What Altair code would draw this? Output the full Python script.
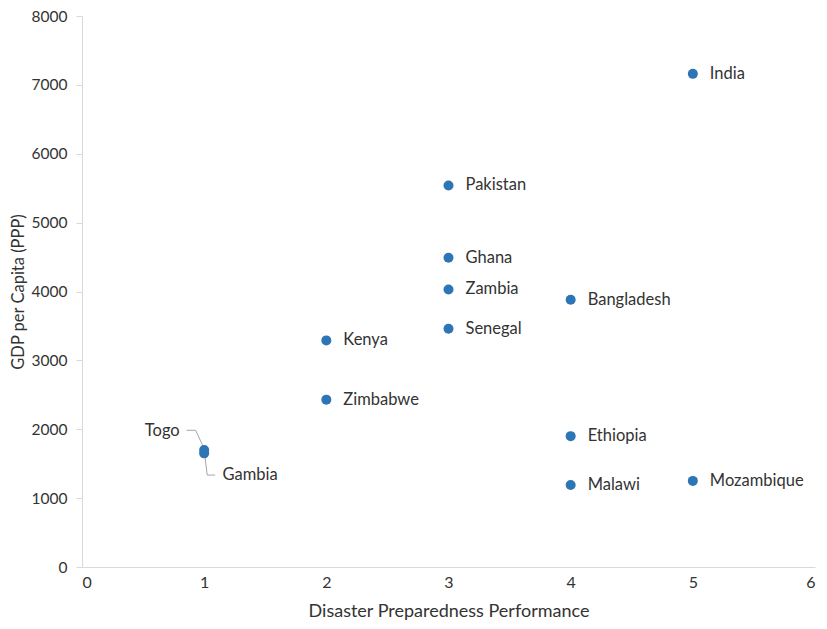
import altair as alt
import pandas as pd

countries = ["India", "Pakistan", "Ghana", "Zambia", "Bangladesh", "Senegal", "Kenya",
             "Zimbabwe", "Ethiopia", "Malawi", "Mozambique", "Togo", "Gambia"]
preparedness = [5, 3, 3, 3, 4, 3, 2, 2, 4, 4, 5, 1, 1]
gdp = [7160, 5540, 4490, 4030, 3880, 3460, 3290, 2430, 1900, 1190, 1250, 1700, 1650]

# labels drawn beside their point (all except the two with leader lines)
side_labels = countries[:11]

# leader-line annotations: label anchor and polyline path in data units
togo_label = {"x": 0.80, "y": 1975}
gambia_label = {"x": 1.15, "y": 1330}
togo_path_x = [0.855, 0.93, 1.0]
togo_path_y = [1985, 1985, 1720]
gambia_path_x = [1.005, 1.025, 1.09]
gambia_path_y = [1620, 1335, 1335]

FONT = "Lato"
TEXT = "#333333"
BLUE = "#2e75b6"

df = pd.DataFrame({"country": countries, "x": preparedness, "y": gdp})
side_df = df[df["country"].isin(side_labels)]

leader_df = pd.DataFrame({
    "grp": ["Togo"] * 3 + ["Gambia"] * 3,
    "order": [0, 1, 2, 0, 1, 2],
    "x": togo_path_x + gambia_path_x,
    "y": togo_path_y + gambia_path_y,
})
ann_df = pd.DataFrame({
    "country": ["Togo", "Gambia"],
    "x": [togo_label["x"], gambia_label["x"]],
    "y": [togo_label["y"], gambia_label["y"]],
    "align": ["right", "left"],
})

xs = alt.Scale(domain=[0, 6], nice=False)
ys = alt.Scale(domain=[0, 8000], nice=False)

x_axis = alt.Axis(title="Disaster Preparedness Performance", values=[0, 1, 2, 3, 4, 5, 6],
                  format="d", ticks=False, labelPadding=7, titlePadding=12, grid=False,
                  labelFontSize=16, titleFontSize=18)
y_axis = alt.Axis(title="GDP per Capita (PPP)", values=list(range(0, 8001, 1000)),
                  format="d", tickSize=6, labelPadding=9, titlePadding=5, grid=False,
                  labelFontSize=15.5, titleFontSize=16.5)

points = alt.Chart(df).mark_circle(size=100, color=BLUE, opacity=1).encode(
    x=alt.X("x:Q", scale=xs, axis=x_axis),
    y=alt.Y("y:Q", scale=ys, axis=y_axis),
)

leaders = alt.Chart(leader_df).mark_line(color="#a6a6a6", strokeWidth=1).encode(
    x=alt.X("x:Q", scale=xs),
    y=alt.Y("y:Q", scale=ys),
    detail="grp:N",
    order="order:Q",
)

labels = alt.Chart(side_df).mark_text(align="left", dx=17, font=FONT, fontSize=16.5, color=TEXT).encode(
    x=alt.X("x:Q", scale=xs),
    y=alt.Y("y:Q", scale=ys),
    text="country:N",
)

ann_r = alt.Chart(ann_df[ann_df["align"] == "right"]).mark_text(align="right", font=FONT, fontSize=16.5, color=TEXT).encode(
    x=alt.X("x:Q", scale=xs), y=alt.Y("y:Q", scale=ys), text="country:N")
ann_l = alt.Chart(ann_df[ann_df["align"] == "left"]).mark_text(align="left", font=FONT, fontSize=16.5, color=TEXT).encode(
    x=alt.X("x:Q", scale=xs), y=alt.Y("y:Q", scale=ys), text="country:N")

chart = alt.layer(leaders, points, labels, ann_r, ann_l).properties(
    width=733, height=551,
    autosize=alt.AutoSizeParams(type="none"),
    padding={"left": 74, "top": 8, "right": 4, "bottom": 54},
).configure_view(stroke=None).configure_axis(
    domainColor="#d9d9d9", tickColor="#d9d9d9",
    labelFont=FONT, titleFont=FONT,
    labelColor=TEXT, titleColor=TEXT, titleFontWeight="normal",
)

chart.save("out.html", embed_options={"renderer": "svg", "actions": False})
